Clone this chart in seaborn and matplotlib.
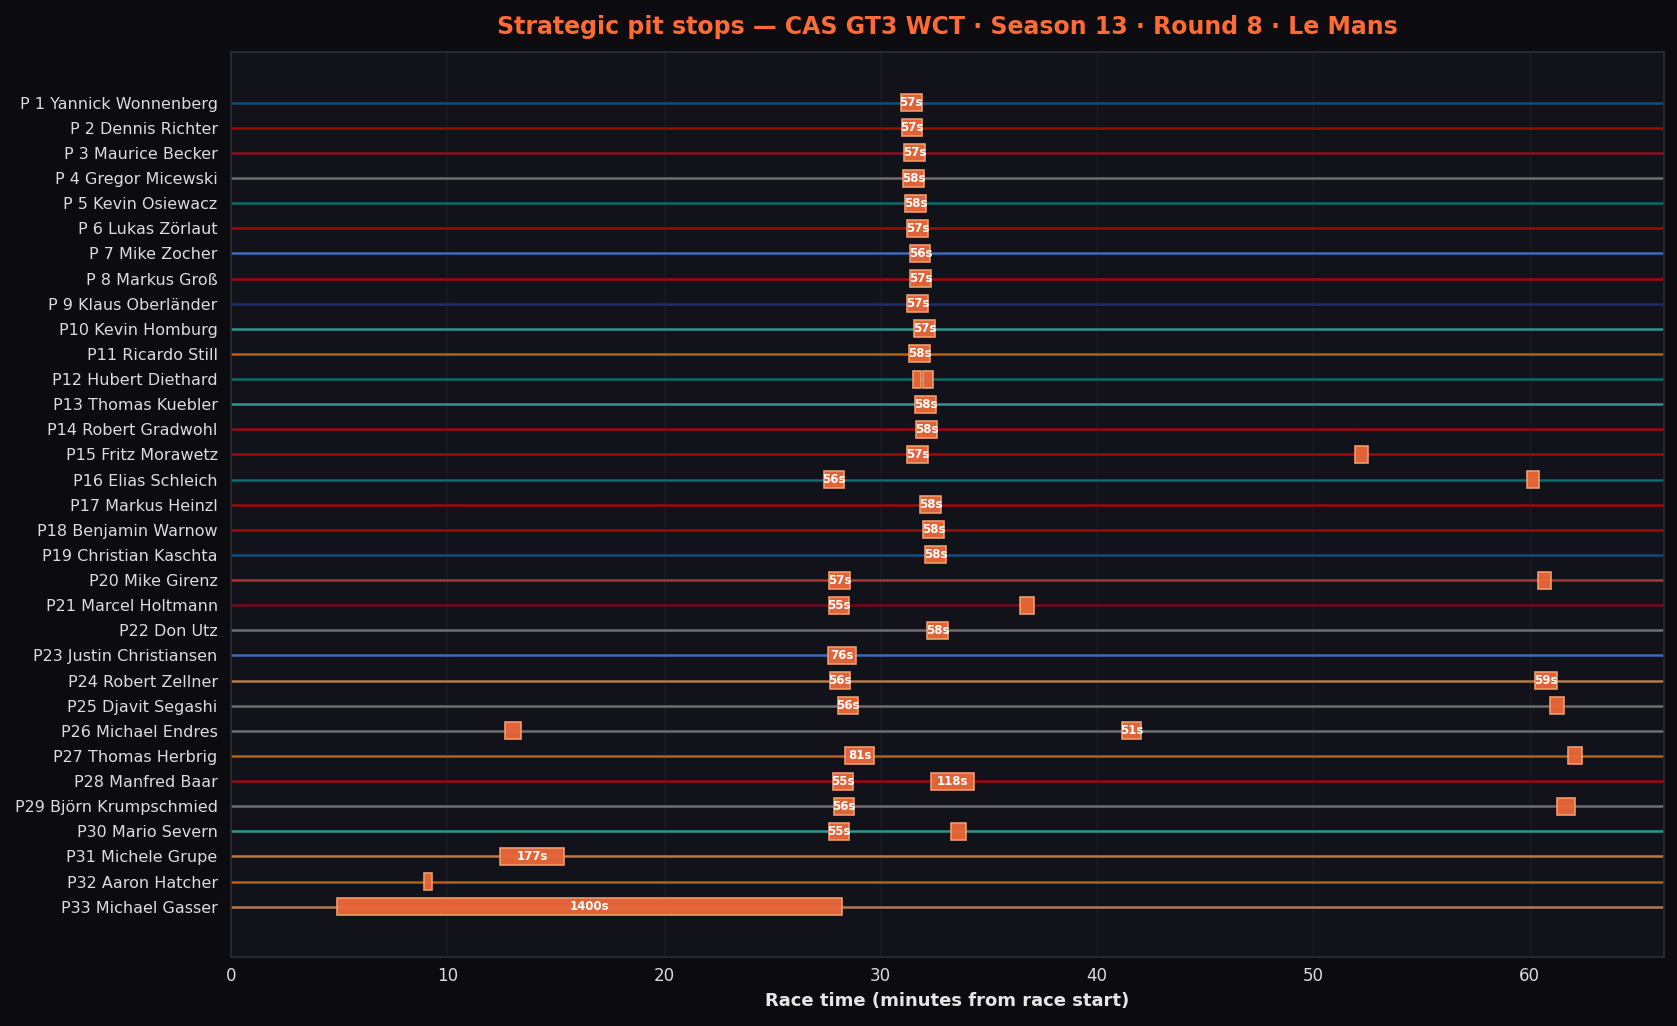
import matplotlib
matplotlib.use("Agg")
import matplotlib.pyplot as plt
import seaborn as sns

drivers = ["P 1 Yannick Wonnenberg", "P 2 Dennis Richter", "P 3 Maurice Becker",
           "P 4 Gregor Micewski", "P 5 Kevin Osiewacz", "P 6 Lukas Zörlaut",
           "P 7 Mike Zocher", "P 8 Markus Groß", "P 9 Klaus Oberländer",
           "P10 Kevin Homburg", "P11 Ricardo Still", "P12 Hubert Diethard",
           "P13 Thomas Kuebler", "P14 Robert Gradwohl", "P15 Fritz Morawetz",
           "P16 Elias Schleich", "P17 Markus Heinzl", "P18 Benjamin Warnow",
           "P19 Christian Kaschta", "P20 Mike Girenz", "P21 Marcel Holtmann",
           "P22 Don Utz", "P23 Justin Christiansen", "P24 Robert Zellner",
           "P25 Djavit Segashi", "P26 Michael Endres", "P27 Thomas Herbrig",
           "P28 Manfred Baar", "P29 Björn Krumpschmied", "P30 Mario Severn",
           "P31 Michele Grupe", "P32 Aaron Hatcher", "P33 Michael Gasser"]

driver_team = ["blue_dark", "red", "crimson", "gray", "teal_dark", "red",
               "blue", "red", "navy", "teal", "orange", "teal_dark",
               "teal", "red", "red", "teal_dark", "red", "red",
               "blue_dark", "red_light", "maroon", "gray", "blue", "tan",
               "gray", "gray", "orange", "red", "gray", "teal",
               "tan", "orange", "tan"]

team_colors = {"blue_dark": "#0d4f80", "red": "#9e0a0a", "crimson": "#8f0d20",
               "gray": "#6e6e6e", "teal_dark": "#0f6b6b", "blue": "#3a6cc0",
               "navy": "#1f2d66", "teal": "#2a998f", "orange": "#b55f10",
               "red_light": "#b3313a", "maroon": "#750a1a", "tan": "#b87a45"}

# pit stops: driver row, start (minutes), duration (seconds)
stop_driver = [0, 1, 2, 3, 4, 5, 6, 7, 8, 9, 10, 11, 11, 12, 13, 14, 14,
               15, 15, 16, 17, 18, 19, 19, 20, 20, 21, 22, 23, 23, 24, 24,
               25, 25, 26, 26, 27, 27, 28, 28, 29, 29, 30, 31, 32]
stop_start = [30.95, 30.99, 31.09, 31.06, 31.15, 31.24, 31.38, 31.38, 31.24,
              31.56, 31.33, 31.52, 31.95, 31.61, 31.66, 31.24, 51.92,
              27.40, 59.86, 31.84, 31.98, 32.07, 27.63, 60.37, 27.63, 36.44,
              32.16, 27.59, 27.68, 60.25, 28.05, 60.94,
              12.68, 41.17, 28.37, 61.77, 27.82, 32.35, 27.86, 61.27,
              27.63, 33.27, 12.45, 8.90, 4.88]
stop_dur = [57, 57, 57, 58, 58, 57, 56, 57, 57, 57, 58, 20, 29, 58, 58, 57, 35,
            56, 35, 58, 58, 58, 57, 35, 55, 38, 58, 76, 56, 59, 56, 37,
            44, 51, 81, 37, 55, 118, 56, 48, 55, 42, 177, 22, 1400]

fig_bg = "#0b0b10"
ax_bg = "#12121a"

sns.set_theme(style="dark", rc={
    "figure.facecolor": fig_bg,
    "axes.facecolor": ax_bg,
    "axes.edgecolor": "#2c2c38",
    "axes.labelcolor": "#e6e6e6",
    "xtick.color": "#dcdcdc",
    "ytick.color": "#dcdcdc",
    "text.color": "#dcdcdc",
    "grid.color": "#1b1b25",
})
plt.rcParams["font.family"] = ["DejaVu Sans"]

fig = plt.figure(figsize=(16.77, 10.26), dpi=100)
ax = fig.add_axes([0.1377, 0.0673, 0.8546, 0.8816])

for i, name in enumerate(drivers):
    ax.axhline(i, color=team_colors[driver_team[i]], lw=1.8, zorder=1)

widths = [d / 60 for d in stop_dur]
ax.barh(stop_driver, widths, left=stop_start, height=0.68,
        color="#ec683a", edgecolor="#f4a06e", linewidth=1.2, alpha=0.95, zorder=3)

for row, s, d, w in zip(stop_driver, stop_start, stop_dur, widths):
    if d >= 50:
        ax.text(s + w / 2, row, f"{d}s", ha="center", va="center",
                color="white", fontsize=8.5, fontweight="bold", zorder=4)

ax.set_yticks(range(len(drivers)))
ax.set_yticklabels(drivers, fontsize=11.5)
ax.set_ylim(34, -2)
ax.set_xlim(0, 66.2)
ax.tick_params(axis="x", labelsize=12, length=4, width=1, color="#cfcfcf")
ax.tick_params(axis="y", length=4, width=1, color="#cfcfcf", pad=5.5)
ax.grid(axis="x", color="#1b1b25", lw=1)
ax.grid(axis="y", visible=False)
ax.set_xlabel("Race time (minutes from race start)", fontsize=13,
              fontweight="bold", color="#e6e6e6", labelpad=5)
ax.set_title("Strategic pit stops — CAS GT3 WCT · Season 13 · Round 8 · Le Mans",
             fontsize=17, fontweight="bold", color="#ff6b35", pad=13)

fig.savefig("out.png", dpi=100, facecolor=fig_bg)
